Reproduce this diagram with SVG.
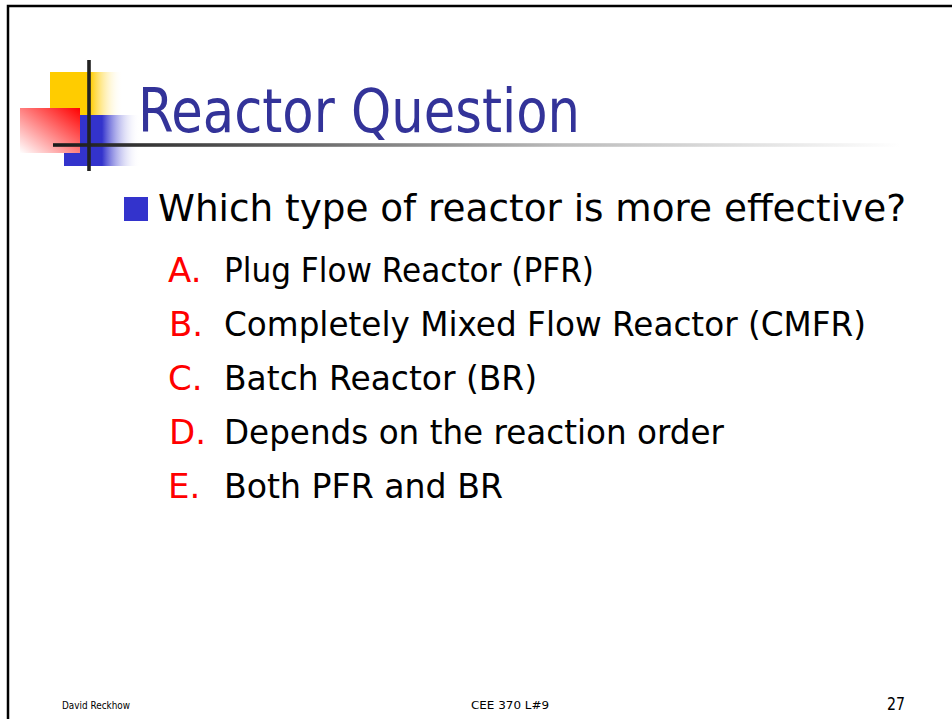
<svg xmlns="http://www.w3.org/2000/svg" width="952" height="719" viewBox="0 0 952 719">
  <defs>
    <linearGradient id="gYellow" x1="0" y1="0" x2="1" y2="0">
      <stop offset="0" stop-color="#FFCC00"/>
      <stop offset="0.55" stop-color="#FFCC00"/>
      <stop offset="1" stop-color="#FFFFFF" stop-opacity="0"/>
    </linearGradient>
    <linearGradient id="gBlue" x1="0" y1="0" x2="1" y2="0">
      <stop offset="0" stop-color="#3333CC"/>
      <stop offset="0.5" stop-color="#3333CC"/>
      <stop offset="1" stop-color="#FFFFFF" stop-opacity="0"/>
    </linearGradient>
    <linearGradient id="gRed" x1="1" y1="0" x2="0" y2="1">
      <stop offset="0" stop-color="#FF0000"/>
      <stop offset="1" stop-color="#FFFFFF"/>
    </linearGradient>
    <linearGradient id="gLine" gradientUnits="userSpaceOnUse" x1="53" y1="0" x2="900" y2="0">
      <stop offset="0" stop-color="#1a1a1a"/>
      <stop offset="0.1" stop-color="#333333"/>
      <stop offset="0.6" stop-color="#bbbbbb"/>
      <stop offset="1" stop-color="#ffffff"/>
    </linearGradient>
  </defs>
  <style>
    .t { font-family: "DejaVu Sans", "Liberation Sans", sans-serif; }
    .title { font-size: 60px; fill: #333399; }
    .b1 { font-size: 38px; fill: #000000; }
    .b2 { font-size: 34px; fill: #000000; }
    .lab { font-size: 34px; fill: #FF0000; }
    .foot { font-size: 11px; fill: #000000; }
  </style>
  <rect width="952" height="719" fill="#FFFFFF"/>
  <g id="frame">
    <path d="M8,730 V6 H960" fill="none" stroke="#000000" stroke-width="2.5"/>
  </g>
  <g id="logo">
    <rect x="50" y="72" width="73" height="43" fill="url(#gYellow)"/>
    <rect x="64" y="115" width="76" height="51" fill="url(#gBlue)"/>
    <rect x="20" y="108" width="60" height="45" fill="url(#gRed)"/>
    <rect x="53" y="143.2" width="847" height="3.6" fill="url(#gLine)"/>
    <rect x="87.2" y="60" width="3.6" height="111" fill="#222222"/>
  </g>
  <g id="title">
    <text class="t title" x="138" y="132" textLength="442" lengthAdjust="spacingAndGlyphs">Reactor Question</text>
  </g>
  <g id="question">
    <rect x="124" y="197" width="24" height="24" fill="#3333CC"/>
    <text class="t b1" x="158" y="221" textLength="748" lengthAdjust="spacingAndGlyphs">Which type of reactor is more effective?</text>
  </g>
  <g id="optionA">
    <text class="t lab" x="168" y="282">A.</text>
    <text class="t b2" x="224" y="282" textLength="370" lengthAdjust="spacingAndGlyphs">Plug Flow Reactor (PFR)</text>
  </g>
  <g id="optionB">
    <text class="t lab" x="169" y="336">B.</text>
    <text class="t b2" x="224" y="336" textLength="642" lengthAdjust="spacingAndGlyphs">Completely Mixed Flow Reactor (CMFR)</text>
  </g>
  <g id="optionC">
    <text class="t lab" x="168" y="390">C.</text>
    <text class="t b2" x="224" y="390" textLength="313" lengthAdjust="spacingAndGlyphs">Batch Reactor (BR)</text>
  </g>
  <g id="optionD">
    <text class="t lab" x="169" y="444">D.</text>
    <text class="t b2" x="224" y="444" textLength="500" lengthAdjust="spacingAndGlyphs">Depends on the reaction order</text>
  </g>
  <g id="optionE">
    <text class="t lab" x="168" y="498">E.</text>
    <text class="t b2" x="224" y="498" textLength="279" lengthAdjust="spacingAndGlyphs">Both PFR and BR</text>
  </g>
  <g id="footer">
    <text class="t foot" x="62" y="709" textLength="68" lengthAdjust="spacingAndGlyphs">David Reckhow</text>
    <text class="t foot" x="471" y="709" font-size="12" textLength="78" lengthAdjust="spacingAndGlyphs">CEE 370 L#9</text>
    <text class="t" x="887" y="710" font-size="17" fill="#000000" textLength="18" lengthAdjust="spacingAndGlyphs">27</text>
  </g>
</svg>
